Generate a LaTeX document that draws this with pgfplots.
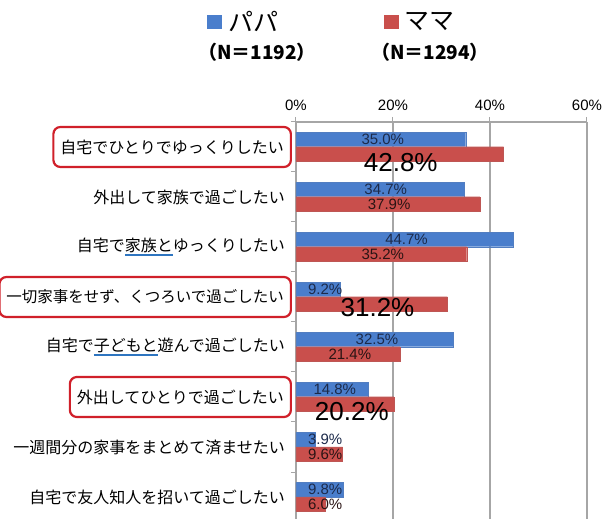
\documentclass[border=0pt]{standalone}
\usepackage{pgfplots}
\pgfplotsset{compat=1.18}
\usepackage{pgfplotstable}
\usepackage{fontspec}
\setmainfont{Liberation Sans}
\newfontfamily\jp{Noto Sans CJK JP}
\definecolor{pblue}{HTML}{4A7ECC}
\definecolor{pred}{HTML}{C94F4C}
\definecolor{boxred}{HTML}{D0202A}
\definecolor{ulblue}{HTML}{2E75C0}
\definecolor{gridgray}{HTML}{A6A6A6}
\definecolor{lblblue}{HTML}{1C2A4A}
\definecolor{lblred}{HTML}{2A1414}
\newsavebox\ulbox
\newcommand\bul[1]{\sbox\ulbox{#1}\rlap{\color{ulblue}\rule[-5pt]{\wd\ulbox}{2.2pt}}\usebox\ulbox}

\pgfplotstableread{
y v lx
0.85 35.0 17.9
1.85 34.7 18.5
2.85 44.7 22.8
3.85 9.2 6.0
4.85 32.5 16.7
5.85 14.8 8.0
6.85 3.9 6.0
7.85 9.8 6.0
}\papa

\pgfplotstableread{
y v
1.14 42.8
2.14 37.9
3.14 35.2
4.14 31.2
5.14 21.4
6.14 20.2
7.14 9.6
8.14 6.0
}\mama

\pgfplotstableread{
v lx ly
37.9 19.2 2.14
35.2 17.9 3.14
21.4 11.1 5.14
9.6 6.0 7.14
6.0 6.0 8.14
}\mamasmall

\pgfplotstableread{
v lx ly
42.8 21.6 1.32
31.2 16.8 4.22
20.2 11.5 6.29
}\mamabig

\begin{document}
\begin{tikzpicture}
\useasboundingbox (0,0) rectangle (606pt,519pt);
\begin{axis}[
  at={(296pt,0pt)}, anchor=south west,
  scale only axis, width=291pt, height=397pt,
  xmin=0, xmax=60, ymin=0.5, ymax=8.44,
  y dir=reverse,
  clip=false,
  axis x line*=top, axis y line*=left,
  axis line style={draw=gridgray, line width=1.2pt},
  xtick={0,20,40,60},
  xticklabel={\pgfmathprintnumber{\tick}\%},
  xticklabel style={font=\fontsize{15}{15}\selectfont, yshift=3pt},
  xmajorgrids=true,
  major grid style={draw=gridgray, line width=1.2pt},
  ytick={0.5,1.5,...,7.5},
  yticklabels={},
  tick align=outside,
  major tick length=5pt,
  tick style={draw=gridgray, line width=1pt},
  /pgf/number format/assume math mode=true,
  legend columns=2,
  legend style={at={(-0.306,1.252)}, anchor=west, draw=none, fill=none,
    inner sep=0pt, font=\jp\fontsize{25}{25}\selectfont,
    /tikz/every even column/.append style={column sep=103pt},
    cells={anchor=west}},
]
\addplot[xbar, bar width=0.29, bar shift=0pt, fill=pblue, draw=pblue!85!gray, line width=0.4pt,
  legend image code/.code={\fill[pblue] (0pt,-6pt) rectangle (14pt,7pt);}]
  table[x=v, y=y] {\papa};
\addlegendentry{\hspace*{5pt}パパ}
\addplot[xbar, bar width=0.29, bar shift=0pt, fill=pred, draw=pred!85!gray, line width=0.4pt,
  legend image code/.code={\fill[pred] (0pt,-6pt) rectangle (14pt,7pt);}]
  table[x=v, y=y] {\mama};
\addlegendentry{\hspace*{5pt}ママ}

\addplot[forget plot, only marks, mark=*, mark size=0pt, mark options={draw=none, fill=none},
  point meta=\thisrow{v},
  nodes near coords={\pgfmathprintnumber[fixed,fixed zerofill,precision=1]{\pgfplotspointmeta}\%},
  every node near coord/.append style={anchor=center, inner sep=0pt, text=lblblue, font=\fontsize{15}{15}\selectfont}]
  table[x=lx, y=y] {\papa};
\addplot[forget plot, only marks, mark=*, mark size=0pt, mark options={draw=none, fill=none},
  point meta=\thisrow{v},
  nodes near coords={\pgfmathprintnumber[fixed,fixed zerofill,precision=1]{\pgfplotspointmeta}\%},
  every node near coord/.append style={anchor=center, inner sep=0pt, text=lblred, font=\fontsize{15}{15}\selectfont}]
  table[x=lx, y=ly] {\mamasmall};
\addplot[forget plot, only marks, mark=*, mark size=0pt, mark options={draw=none, fill=none},
  point meta=\thisrow{v},
  nodes near coords={\pgfmathprintnumber[fixed,fixed zerofill,precision=1]{\pgfplotspointmeta}\%},
  every node near coord/.append style={anchor=center, inner sep=0pt, text=black, font=\fontsize{26}{26}\selectfont}]
  table[x=lx, y=ly] {\mamabig};

\tikzset{catlab/.style={anchor=east, inner ysep=0pt, inner xsep=7pt, xshift=-4pt, font=\jp\fontsize{16}{18}\selectfont},
  boxlab/.style={catlab, draw=boxred, line width=2.2pt, rounded corners=7pt, minimum height=40pt}}
\node[boxlab] at (axis cs:0,1) {自宅でひとりでゆっくりしたい};
\node[catlab] at (axis cs:0,2) {外出して家族で過ごしたい};
\node[catlab] at (axis cs:0,3) {自宅で\bul{家族と}ゆっくりしたい};
\node[boxlab, font=\jp\fontsize{15.5}{18}\selectfont] at (axis cs:0,4) {一切家事をせず、くつろいで過ごしたい};
\node[catlab] at (axis cs:0,5) {自宅で\bul{子どもと}遊んで過ごしたい};
\node[boxlab] at (axis cs:0,6) {外出してひとりで過ごしたい};
\node[catlab] at (axis cs:0,7) {一週間分の家事をまとめて済ませたい};
\node[catlab] at (axis cs:0,8) {自宅で友人知人を招いて過ごしたい};
\end{axis}
\node[font=\jp\bfseries\fontsize{19}{19}\selectfont] at (257pt,467pt) {（N＝1192）};
\node[font=\jp\bfseries\fontsize{19}{19}\selectfont] at (430pt,467pt) {（N＝1294）};
\end{tikzpicture}
\end{document}
